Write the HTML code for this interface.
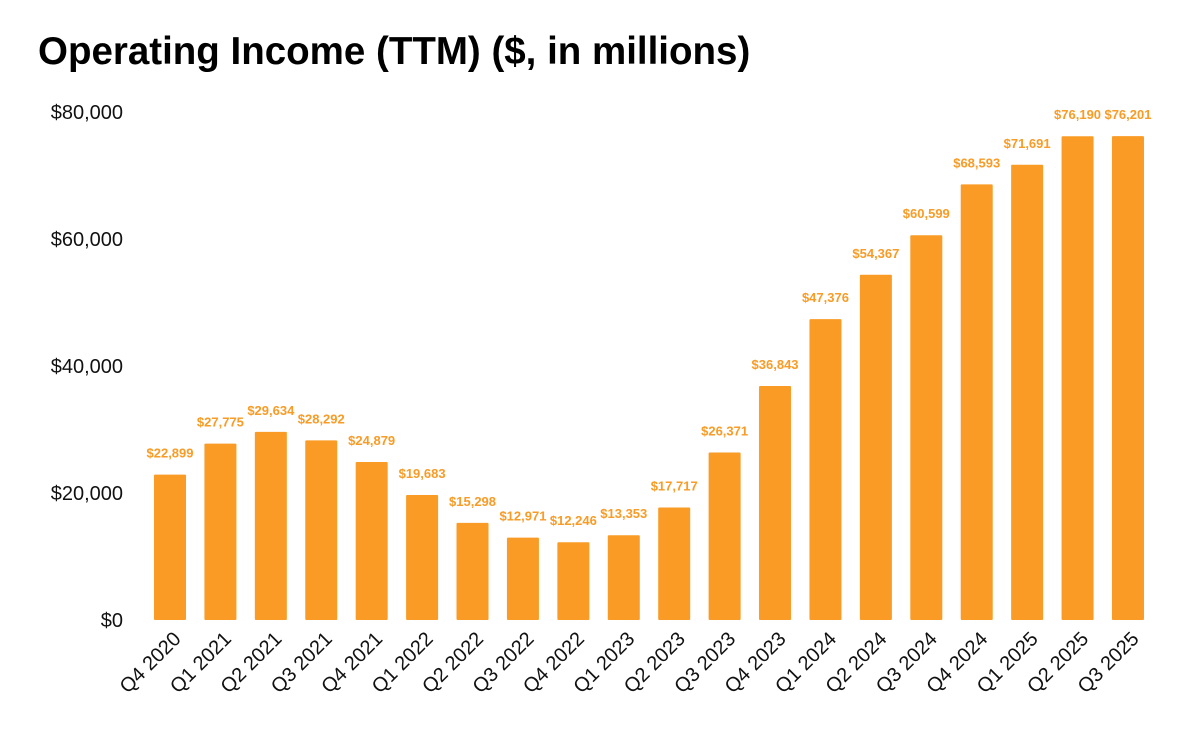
<!DOCTYPE html>
<html><head><meta charset="utf-8"><style>
body{margin:0;background:#fff;width:1200px;height:742px;overflow:hidden;font-family:"Liberation Sans",sans-serif}
h1{position:absolute;left:38px;top:30px;margin:0;font-size:38.5px;font-weight:bold;color:#000;letter-spacing:0px}
svg{position:absolute;left:0;top:0}
</style></head><body>
<h1>Operating Income (TTM) ($, in millions)</h1>
<svg id="c" width="1200" height="742"></svg>
<script>
const categories=["Q4 2020","Q1 2021","Q2 2021","Q3 2021","Q4 2021","Q1 2022","Q2 2022","Q3 2022","Q4 2022","Q1 2023","Q2 2023","Q3 2023","Q4 2023","Q1 2024","Q2 2024","Q3 2024","Q4 2024","Q1 2025","Q2 2025","Q3 2025"];
const values=[22899,27775,29634,28292,24879,19683,15298,12971,12246,13353,17717,26371,36843,47376,54367,60599,68593,71691,76190,76201];
const yTicks=[0,20000,40000,60000,80000];
const svg=document.getElementById('c');const NS="http://www.w3.org/2000/svg";
const y=v=>620-v*508/80000;
const x=i=>170+i*50.42;
const fmt=v=>'$'+v.toLocaleString('en-US');
function mk(t,a,txt){const e=document.createElementNS(NS,t);for(const k in a)e.setAttribute(k,a[k]);if(txt!=null)e.textContent=txt;svg.appendChild(e);return e;}
yTicks.forEach(v=>{const e=mk('text',{x:123,y:y(v)+7,'text-anchor':'end','font-size':20,fill:'#111'},fmt(v));

});
values.forEach((v,i)=>{
const r=mk('rect',{x:x(i)-16,y:y(v),width:32,height:620-y(v),fill:'#F99B25',rx:1});


const t=mk('text',{x:x(i),y:y(v)-17,'text-anchor':'middle','font-size':13,'font-weight':'bold',fill:'#F99B25'},fmt(v));


const l=mk('text',{x:0,y:0,'text-anchor':'end','font-size':20,fill:'#111',transform:`translate(${x(i)+12},${640}) rotate(-45)`},categories[i]);


});
</script>
</body></html>
